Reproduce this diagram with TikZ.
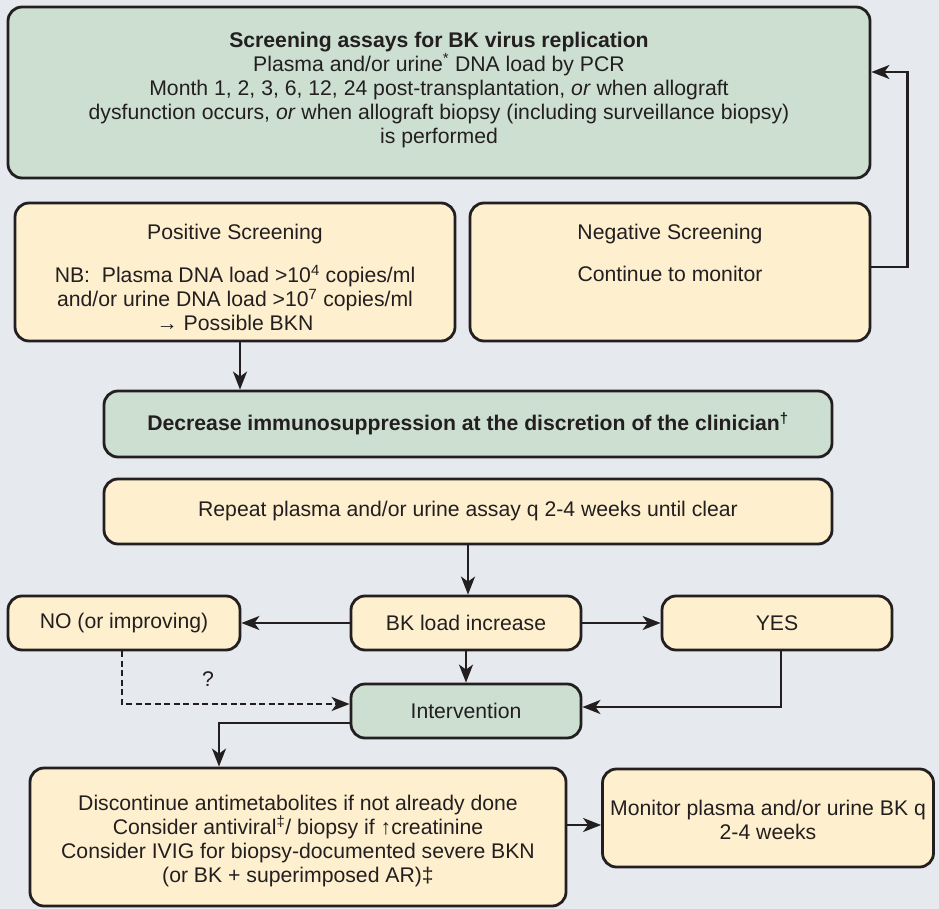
\documentclass[tikz,border=0pt]{standalone}
\usepackage{fontspec}
\setmainfont{Liberation Sans}
\usetikzlibrary{arrows.meta}
\definecolor{bgc}{HTML}{E6E9EE}
\definecolor{grn}{HTML}{CCDFD1}
\definecolor{ylw}{HTML}{FEF0CE}
\definecolor{ink}{HTML}{231F20}
\tikzset{
  boxbase/.style={draw=ink, line width=2.8pt, rounded corners=14pt, inner sep=0pt},
  gbox/.style={boxbase, fill=grn},
  ybox/.style={boxbase, fill=ylw},
  txt/.style={text=ink, align=center, inner sep=0pt, font=\fontsize{21.2}{24}\selectfont},
  arr/.style={draw=ink, line width=2.4pt, -{Stealth[length=18pt,width=14pt,inset=5pt]}},
  darr/.style={arr, dash pattern=on 6pt off 3.5pt}
}
\begin{document}
\begin{tikzpicture}[x=1pt,y=-1pt]
\fill[bgc] (0,0) rectangle (939,909);
\useasboundingbox (0,0) rectangle (939,909);

% boxes
\node[gbox, minimum width=862pt, minimum height=171pt] (top) at (439,92.5) {};
\node[ybox, minimum width=440pt, minimum height=138pt] (pos) at (235,272) {};
\node[ybox, minimum width=400pt, minimum height=138pt] (neg) at (670,272) {};
\node[gbox, minimum width=728pt, minimum height=66pt] (dec) at (468,424) {};
\node[ybox, minimum width=728pt, minimum height=65pt] (rep) at (468,511.5) {};
\node[ybox, minimum width=232pt, minimum height=54pt] (no) at (124,623) {};
\node[ybox, minimum width=230pt, minimum height=54pt] (bk) at (466,623) {};
\node[ybox, minimum width=230pt, minimum height=54pt] (yes) at (777,623) {};
\node[gbox, minimum width=230pt, minimum height=54pt] (int) at (466,711) {};
\node[ybox, minimum width=536pt, minimum height=138pt] (disc) at (298,837) {};
\node[ybox, minimum width=331pt, minimum height=98pt] (mon) at (768,818) {};

% texts
\node[txt] (topT) at (439,90) {\textbf{Screening assays for BK virus replication}\\
Plasma and/or urine\textsuperscript{*} DNA load by PCR\\
Month 1, 2, 3, 6, 12, 24 post-transplantation, \textit{or} when allograft\\
dysfunction occurs, \textit{or} when allograft biopsy (including surveillance biopsy)\\
is performed};
\node[txt] (posT) at (235,234) {Positive Screening};
\node[txt] (posB) at (235,298) {NB:\ \ Plasma DNA load >10\textsuperscript{4} copies/ml\\
and/or urine DNA load >10\textsuperscript{7} copies/ml\\
→ Possible BKN};
\node[txt] (negT) at (670,234) {Negative Screening};
\node[txt] (negB) at (670,274) {Continue to monitor};
\node[txt] (decT) at (dec) {\textbf{Decrease immunosuppression at the discretion of the clinician\textsuperscript{†}}};
\node[txt] (repT) at (rep) {Repeat plasma and/or urine assay q 2-4 weeks until clear};
\node[txt] (noT) at (no) {NO (or improving)};
\node[txt] (bkT) at (bk) {BK load increase};
\node[txt] (yesT) at (yes) {YES};
\node[txt] (intT) at (int) {Intervention};
\node[txt] (discT) at (298,841) {Discontinue antimetabolites if not already done\\
Consider antiviral\textsuperscript{‡}/ biopsy if ↑creatinine\\
Consider IVIG for biopsy-documented severe BKN\\
(or BK + superimposed AR)‡};
\node[txt] (monT) at (768,820) {Monitor plasma and/or urine BK q\\2-4 weeks};
\node[txt] (qm) at (208,679) {?};

% connectors
\draw[arr] ([yshift=5pt]neg.east) -- ++(36,0) |- ([yshift=20.5pt]top.east);
\draw[arr] ([xshift=5pt]pos.south) -- ([xshift=5pt]pos.south |- dec.north);
\draw[arr] (rep.south) -- (rep.south |- bk.north);
\draw[arr] (bk.west) -- (no.east);
\draw[arr] (bk.east) -- (yes.west);
\draw[arr] (bk.south) -- (int.north);
\draw[arr] ([xshift=4pt]yes.south) |- ([yshift=4pt]int.east);
\draw[darr] ([xshift=-2pt]no.south) |- ([yshift=7pt]int.west);
\draw[arr] ([yshift=-12pt]int.west) -| ([xshift=-79pt]disc.north);
\draw[arr] ([yshift=12pt]disc.east) -- ([yshift=12pt]disc.east -| mon.west);
\end{tikzpicture}
\end{document}
